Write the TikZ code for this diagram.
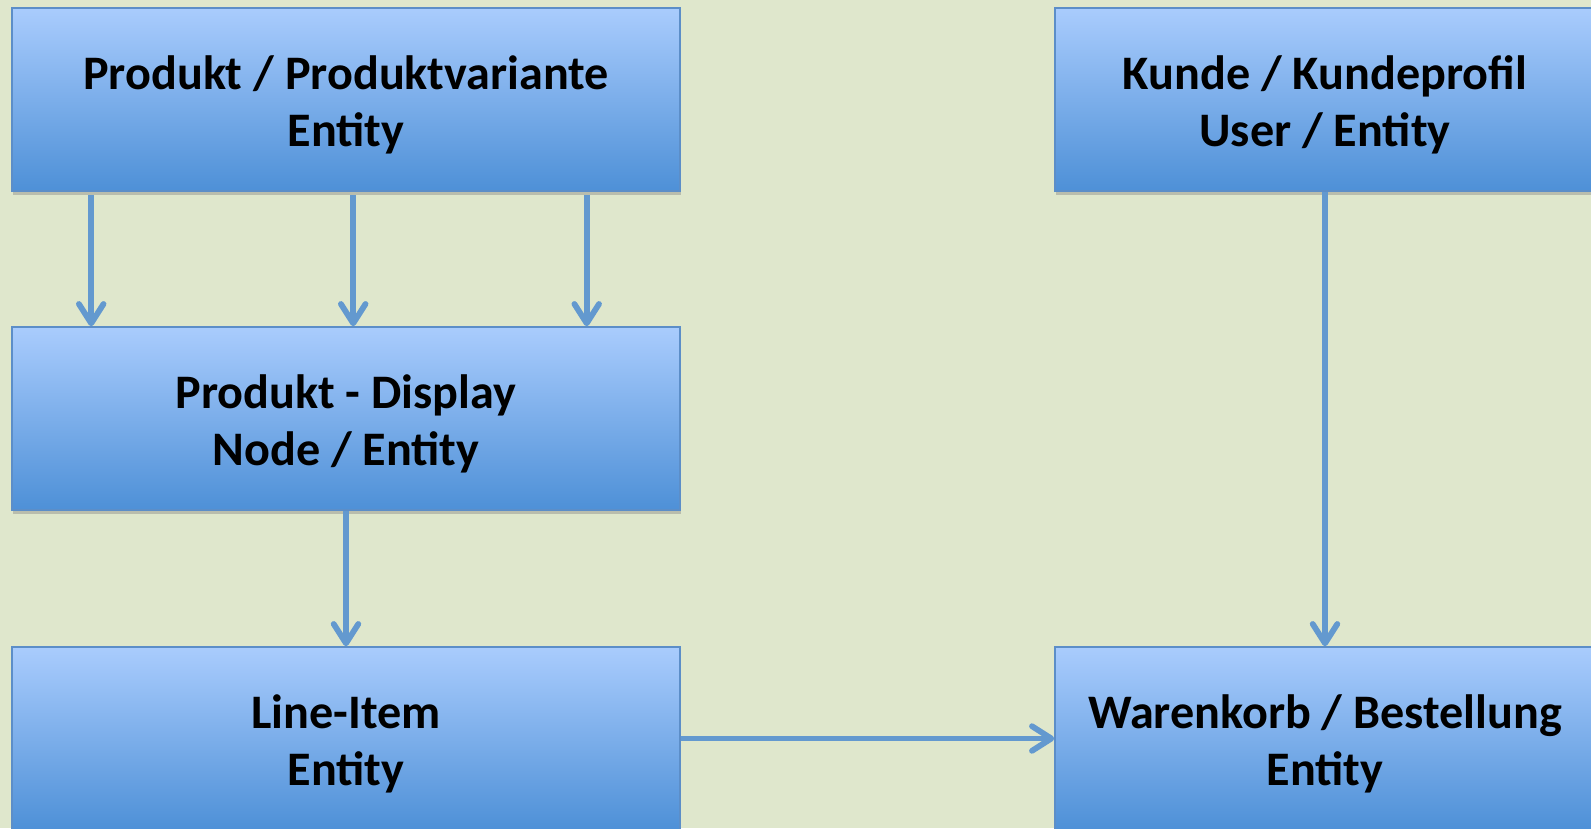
\documentclass[tikz,border=0pt]{standalone}
\usepackage{fontspec}
\setmainfont{Carlito}
\usetikzlibrary{arrows.meta, positioning, shadows}
\definecolor{bgcol}{RGB}{223,231,204}
\definecolor{boxtop}{RGB}{169,204,253}
\definecolor{boxbot}{RGB}{78,144,215}
\definecolor{boxline}{RGB}{92,142,200}
\definecolor{arrcol}{RGB}{99,153,207}

\begin{document}
\begin{tikzpicture}[
>={Straight Barb[length=11pt,width=14pt,line cap=round,line join=round]},
entity/.style={rectangle,draw=boxline,line width=0.9pt,top color=boxtop,bottom color=boxbot,
  minimum height=3.66cm,inner sep=0pt,align=center,text height=59pt,text depth=6pt,
  font=\fontsize{27.4}{32.4}\selectfont\bfseries,
  drop shadow={shadow xshift=0.6pt,shadow yshift=-2.5pt,opacity=0.4}},
link/.style={->,draw=arrcol,line width=3.3pt},
]
\useasboundingbox (0,0) rectangle (31.82,-16.56);
\fill[bgcol] (0,0) rectangle (31.82,-16.56);
\clip (0,0) rectangle (31.82,-16.56);
% nodes
\node[entity,minimum width=13.36cm] (produkt) at (6.92,-1.99) {Produkt / Produktvariante\\Entity};
\node[entity,minimum width=13.36cm] (display) at (6.92,-8.37) {Produkt - Display\\Node / Entity};
\node[entity,minimum width=13.36cm] (item) at (6.92,-14.77) {Line-Item\\Entity};
\node[entity,minimum width=10.8cm] (kunde) at (26.5,-1.99) {Kunde / Kundeprofil\\User / Entity};
\node[entity,minimum width=10.8cm] (warenkorb) at (26.5,-14.77) {Warenkorb / Bestellung\\Entity};
% arrows
\draw[link] ([xshift=1.6cm,yshift=-2pt]produkt.south west) -- ([xshift=1.6cm]display.north west);
\draw[link] ([xshift=6.84cm,yshift=-2pt]produkt.south west) -- ([xshift=6.84cm]display.north west);
\draw[link] ([xshift=11.51cm,yshift=-2pt]produkt.south west) -- ([xshift=11.51cm]display.north west);
\draw[link] (display.south) -- (item.north);
\draw[link] (kunde.south) -- (warenkorb.north);
\draw[link] (item.east) -- (warenkorb.west);
\end{tikzpicture}
\end{document}
